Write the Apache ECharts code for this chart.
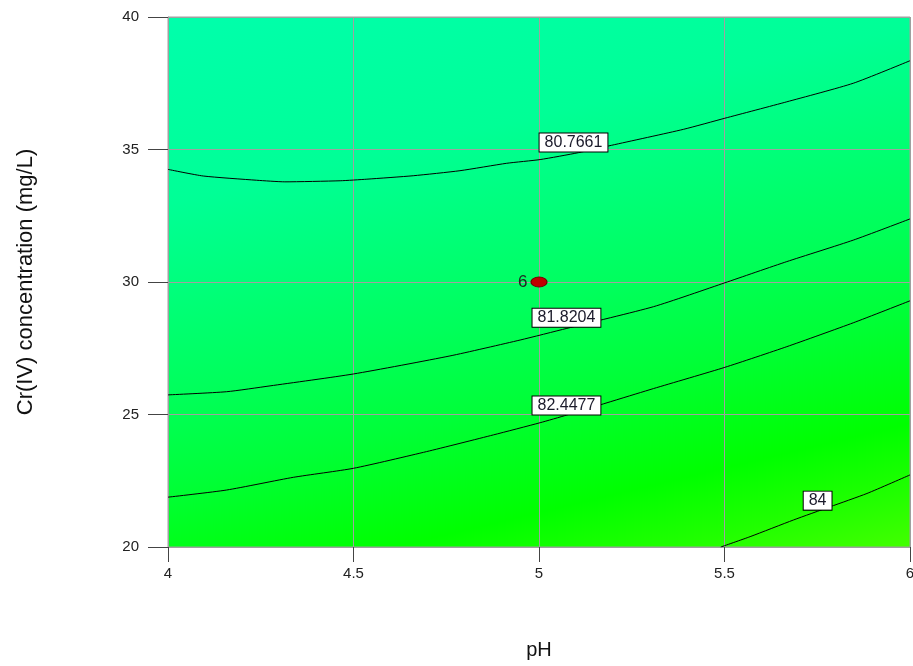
<!DOCTYPE html>
<html>
<head>
<meta charset="utf-8">
<script src="https://cdn.jsdelivr.net/npm/echarts@6/dist/echarts.min.js"></script>
<style>
html,body{margin:0;padding:0;background:#fff;}
#main{width:913px;height:666px;}
</style>
</head>
<body>
<div id="main"></div>
<script>
// ---- Data ----
const xTickLabels = ['4', '4.5', '5', '5.5', '6'];
const yTickLabels = ['20', '25', '30', '35', '40'];

const contourLevels = ['80.7661', '81.8204', '82.4477', '84'];

const contour80_7661 = [[4.0,34.25],[4.095,34.0],[4.239,33.84],[4.315,33.78],[4.464,33.82],[4.536,33.88],[4.661,34.01],[4.787,34.2],[4.913,34.48],[5.003,34.62],[5.106,34.88],[5.196,35.16],[5.389,35.76],[5.501,36.18],[5.668,36.8],[5.847,37.5],[6.0,38.35]];
const contour81_8204 = [[4.0,25.74],[4.158,25.86],[4.275,26.08],[4.5,26.53],[4.76,27.21],[4.949,27.81],[5.075,28.25],[5.309,29.07],[5.501,29.97],[5.668,30.77],[5.847,31.58],[6.0,32.38]];
const contour82_4477 = [[4.0,21.88],[4.158,22.15],[4.338,22.63],[4.5,22.97],[4.697,23.6],[4.877,24.23],[5.003,24.69],[5.075,24.98],[5.309,25.98],[5.501,26.78],[5.668,27.56],[5.847,28.46],[6.0,29.29]];
const contour84 = [[5.49,20.0],[5.569,20.39],[5.686,21.02],[5.785,21.52],[5.884,22.02],[6.0,22.72]];

const contourLabelPos = [[5.093,35.26],[5.074,28.65],[5.074,25.34],[5.751,21.75]];

const designPoint = [5, 30];
const designPointLabel = '6';

// ---- Chart ----
const chart = echarts.init(document.getElementById('main'));
const FONT = '"Liberation Sans", Arial, sans-serif';

const bg = new echarts.graphic.LinearGradient(0, 0, 0.2166, 1.263, [
  {offset: 0, color: 'rgb(0,255,172)'},
  {offset: 0.265, color: 'rgb(0,255,150)'},
  {offset: 0.535, color: 'rgb(0,255,91)'},
  {offset: 0.665, color: 'rgb(0,255,55)'},
  {offset: 0.825, color: 'rgb(0,255,0)'},
  {offset: 0.92, color: 'rgb(33,255,0)'},
  {offset: 1, color: 'rgb(67,255,0)'}
]);

const lineStyle = {color: '#000', width: 1};
function contourSeries(data) {
  return {
    type: 'line', data: data, symbol: 'none', smooth: 0.2,
    lineStyle: lineStyle, silent: true, z: 3, animation: false
  };
}

chart.setOption({
  animation: false,
  backgroundColor: '#fff',
  grid: {
    left: 168, right: 3, top: 17, bottom: 119,
    containLabel: false, outerBoundsMode: 'none',
    show: true, backgroundColor: bg, borderColor: '#a0a0a0', borderWidth: 1
  },
  xAxis: {
    type: 'value', min: 4, max: 6, interval: 0.5,
    name: 'pH', nameLocation: 'middle', nameGap: 93,
    nameTextStyle: {fontFamily: FONT, fontSize: 20, color: '#111'},
    axisLine: {show: true, lineStyle: {color: '#a0a0a0', width: 1}},
    axisTick: {show: true, inside: false, length: 15, lineStyle: {color: '#444'}},
    axisLabel: {
      margin: 19, fontFamily: FONT, fontSize: 15, color: '#222',
      formatter: function (v) { const i = Math.round((v - 4) / 0.5); return xTickLabels[i]; }
    },
    splitLine: {show: true, lineStyle: {color: '#a0a0a0', width: 1}}
  },
  yAxis: {
    type: 'value', min: 20, max: 40, interval: 5,
    name: 'Cr(IV) concentration (mg/L)', nameLocation: 'middle', nameGap: 131,
    nameTextStyle: {fontFamily: FONT, fontSize: 22, color: '#111'},
    axisLine: {show: true, lineStyle: {color: '#a0a0a0', width: 1}},
    axisTick: {show: true, inside: false, length: 20, lineStyle: {color: '#444'}},
    axisLabel: {
      margin: 29, fontFamily: FONT, fontSize: 15, color: '#222',
      formatter: function (v) { const i = Math.round((v - 20) / 5); return yTickLabels[i]; }
    },
    splitLine: {show: true, lineStyle: {color: '#a0a0a0', width: 1}}
  },
  series: [
    contourSeries(contour80_7661),
    contourSeries(contour81_8204),
    contourSeries(contour82_4477),
    contourSeries(contour84),
    {
      type: 'scatter', z: 5, silent: true,
      data: contourLabelPos.map(function (p, i) { return [p[0], p[1], contourLevels[i]]; }),
      symbolSize: 0,
      itemStyle: {color: '#fff', opacity: 1},
      label: {
        show: true, position: 'inside', opacity: 1,
        formatter: function (p) { return p.value[2]; },
        fontFamily: FONT, fontSize: 16, color: '#1a1a2a',
        backgroundColor: '#fff', borderColor: '#000', borderWidth: 1,
        padding: [1, 5, 0, 5], lineHeight: 17
      }
    },
    {
      type: 'scatter', z: 6, silent: true,
      data: [designPoint],
      symbol: 'circle', symbolSize: [16, 10],
      itemStyle: {color: '#c00000', borderColor: '#700000', borderWidth: 1, opacity: 1},
      label: {
        show: true, position: 'left', distance: 3, opacity: 1,
        formatter: designPointLabel,
        fontFamily: FONT, fontSize: 17, color: '#222'
      }
    }
  ]
});
</script>
</body>
</html>
